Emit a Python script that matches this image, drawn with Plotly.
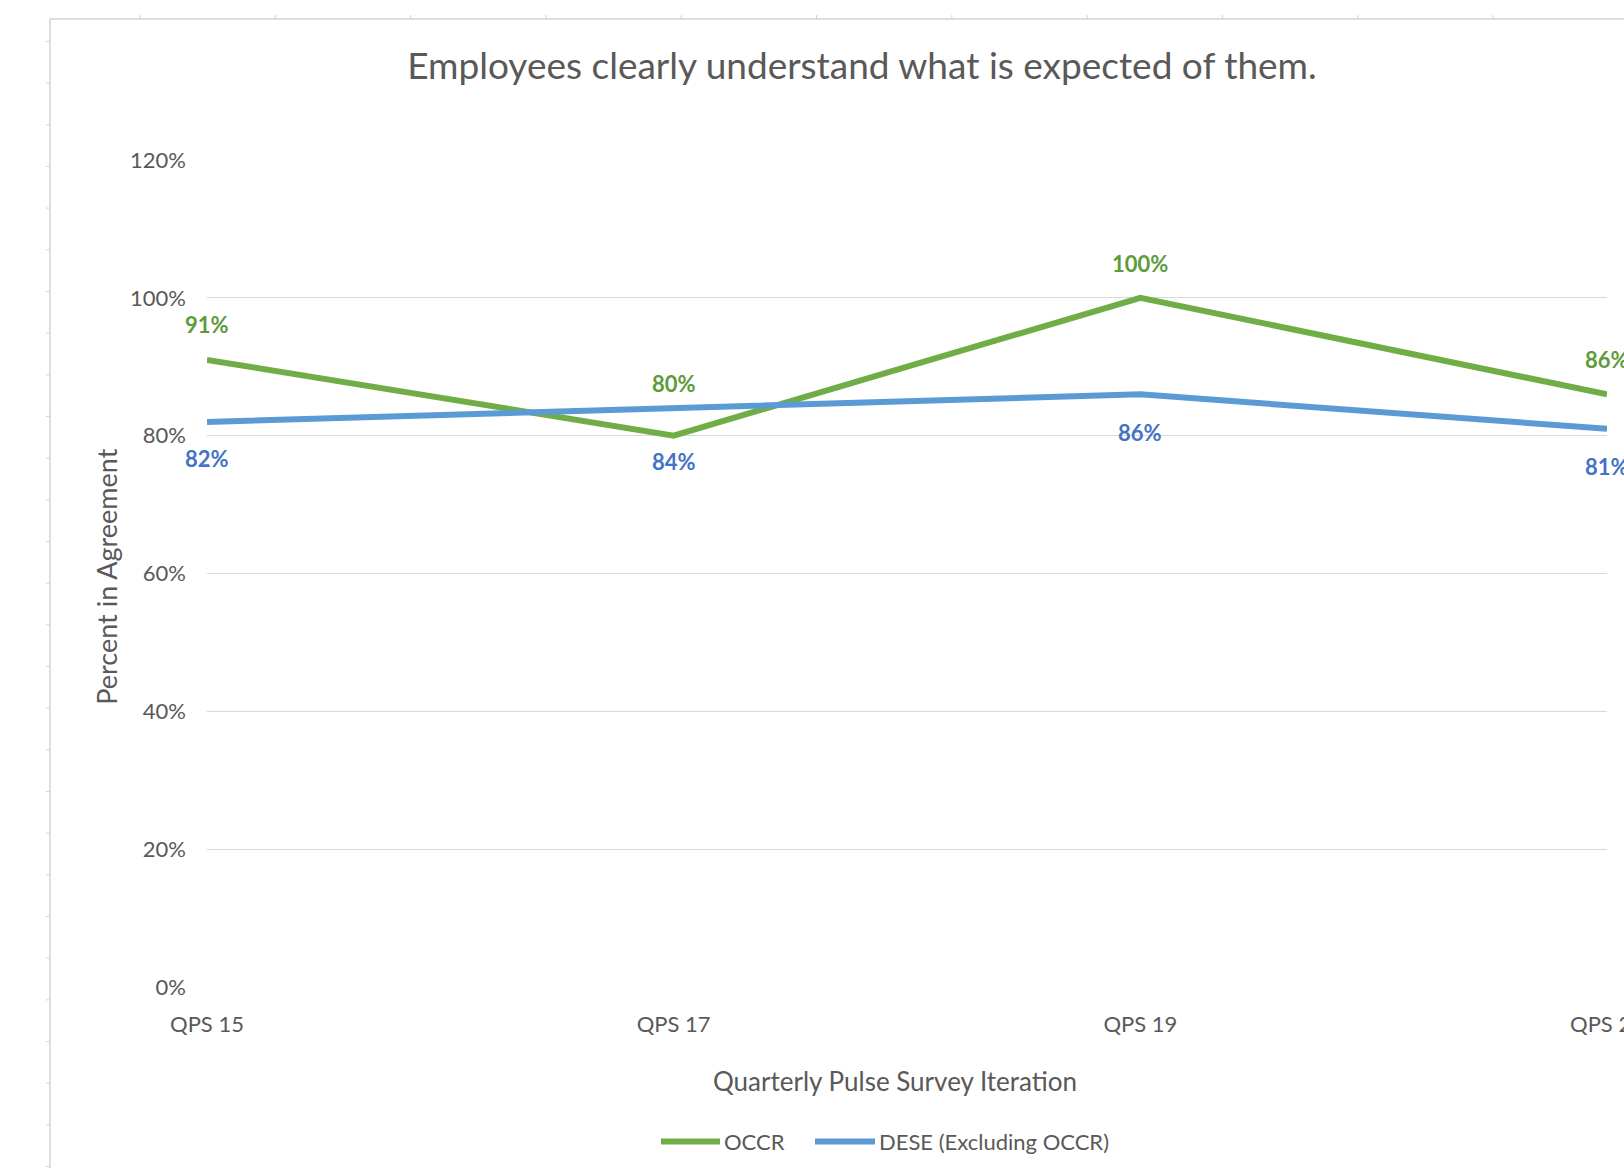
import plotly.graph_objects as go

# ---- data ----
categories = ["QPS 15", "QPS 17", "QPS 19", "QPS 21"]
occr = [0.91, 0.80, 1.00, 0.86]
dese = [0.82, 0.84, 0.86, 0.81]
series_names = ["OCCR", "DESE (Excluding OCCR)"]
y_ticks = [0, 0.2, 0.4, 0.6, 0.8, 1.0, 1.2]

# ---- style / layout constants (pixels, page coordinates) ----
W, H = 1624, 1168
L, R, T, B = 207, 1607, 160, 987.5
line_colors = ["#70AD47", "#5B9BD5"]
label_colors = ["#5E9B3A", "#4472C4"]
# vertical offsets of data labels (px): above for OCCR, below for DESE
occr_label_shift = [35, 52, 34, 35]
dese_label_shift = [37, 53, 38, 38]
FONT = "Lato"
GREY = "#595959"
GRID = "#D9D9D9"


def px(xp):
    return (xp - L) / (R - L)


def py(yp):
    return (B - yp) / (B - T)


fig = go.Figure()
for name, vals, col in zip(series_names, [occr, dese], line_colors):
    fig.add_trace(go.Scatter(x=categories, y=vals, mode="lines", name=name,
                             line=dict(color=col, width=6), showlegend=False,
                             hoverinfo="skip"))

annotations = []
for cat, v, s in zip(categories, occr, occr_label_shift):
    annotations.append(dict(x=cat, y=v, xref="x", yref="y", text=f"<b>{v:.0%}</b>",
                            showarrow=False, yshift=s, xanchor="center", yanchor="middle",
                            font=dict(family=FONT, size=22, color=label_colors[0])))
for cat, v, s in zip(categories, dese, dese_label_shift):
    annotations.append(dict(x=cat, y=v, xref="x", yref="y", text=f"<b>{v:.0%}</b>",
                            showarrow=False, yshift=-s, xanchor="center", yanchor="middle",
                            font=dict(family=FONT, size=22, color=label_colors[1])))

# axis titles
annotations.append(dict(x=px(895), y=py(1082), xref="paper", yref="paper",
                        xanchor="center", yanchor="middle",
                        text="Quarterly Pulse Survey Iteration", showarrow=False,
                        font=dict(family=FONT, size=26, color=GREY)))
annotations.append(dict(x=px(107), y=py(577), xref="paper", yref="paper",
                        xanchor="center", yanchor="middle",
                        text="Percent in Agreement", showarrow=False, textangle=-90,
                        font=dict(family=FONT, size=27, color=GREY)))

# custom legend
shapes = []
legend_items = [(661, 720, 722), (815, 875, 877)]
for (x0, x1, xt), name, col in zip(legend_items, series_names, line_colors):
    shapes.append(dict(type="line", xref="paper", yref="paper", x0=px(x0), x1=px(x1),
                       y0=py(1142), y1=py(1142), line=dict(color=col, width=6)))
    annotations.append(dict(x=px(xt), y=py(1142), xref="paper", yref="paper",
                            xanchor="left", yanchor="middle",
                            text=name, showarrow=False,
                            font=dict(family=FONT, size=22, color=GREY)))

# outer frame (left and top border with small ruler ticks)
FR = "#D3D3D3"
shapes.append(dict(type="line", xref="paper", yref="paper", x0=px(50), x1=px(50),
                   y0=py(19), y1=py(1200), line=dict(color=FR, width=1.5)))
shapes.append(dict(type="line", xref="paper", yref="paper", x0=px(50), x1=px(1700),
                   y0=py(19), y1=py(19), line=dict(color=FR, width=1.5)))
xt = 140.0
while xt < 1624:
    shapes.append(dict(type="line", xref="paper", yref="paper", x0=px(xt), x1=px(xt),
                       y0=py(15), y1=py(19), line=dict(color=FR, width=1)))
    xt += 135.3
yt = 41.3
while yt < 1171:
    shapes.append(dict(type="line", xref="paper", yref="paper", x0=px(46), x1=px(50),
                       y0=py(yt), y1=py(yt), line=dict(color=FR, width=1)))
    yt += 41.7

fig.update_layout(
    width=W, height=H,
    margin=dict(l=L, r=W - R, t=T, b=H - B, pad=0, autoexpand=False),
    paper_bgcolor="white", plot_bgcolor="white",
    title=dict(text="Employees clearly understand what is expected of them.",
               x=862 / W, xanchor="center", xref="container",
               y=1 - 66 / H, yanchor="middle", yref="container",
               font=dict(family=FONT, size=37, color=GREY)),
    xaxis=dict(type="category", range=[0, len(categories) - 1], showgrid=False,
               zeroline=False, showline=False, ticks="", automargin=False,
               tickfont=dict(family=FONT, size=22, color=GREY), ticklabelstandoff=22),
    yaxis=dict(range=[0, 1.2], tickvals=y_ticks, tickformat=".0%", showgrid=True,
               gridcolor=GRID, gridwidth=1.3, zeroline=False, showline=False, ticks="",
               automargin=False,
               tickfont=dict(family=FONT, size=22, color=GREY), ticklabelstandoff=20),
    annotations=annotations,
    shapes=shapes,
    showlegend=False,
)

fig.write_html("out.html", config={"displayModeBar": False},
               post_script="document.body.style.margin='0';document.body.style.overflow='hidden';")
